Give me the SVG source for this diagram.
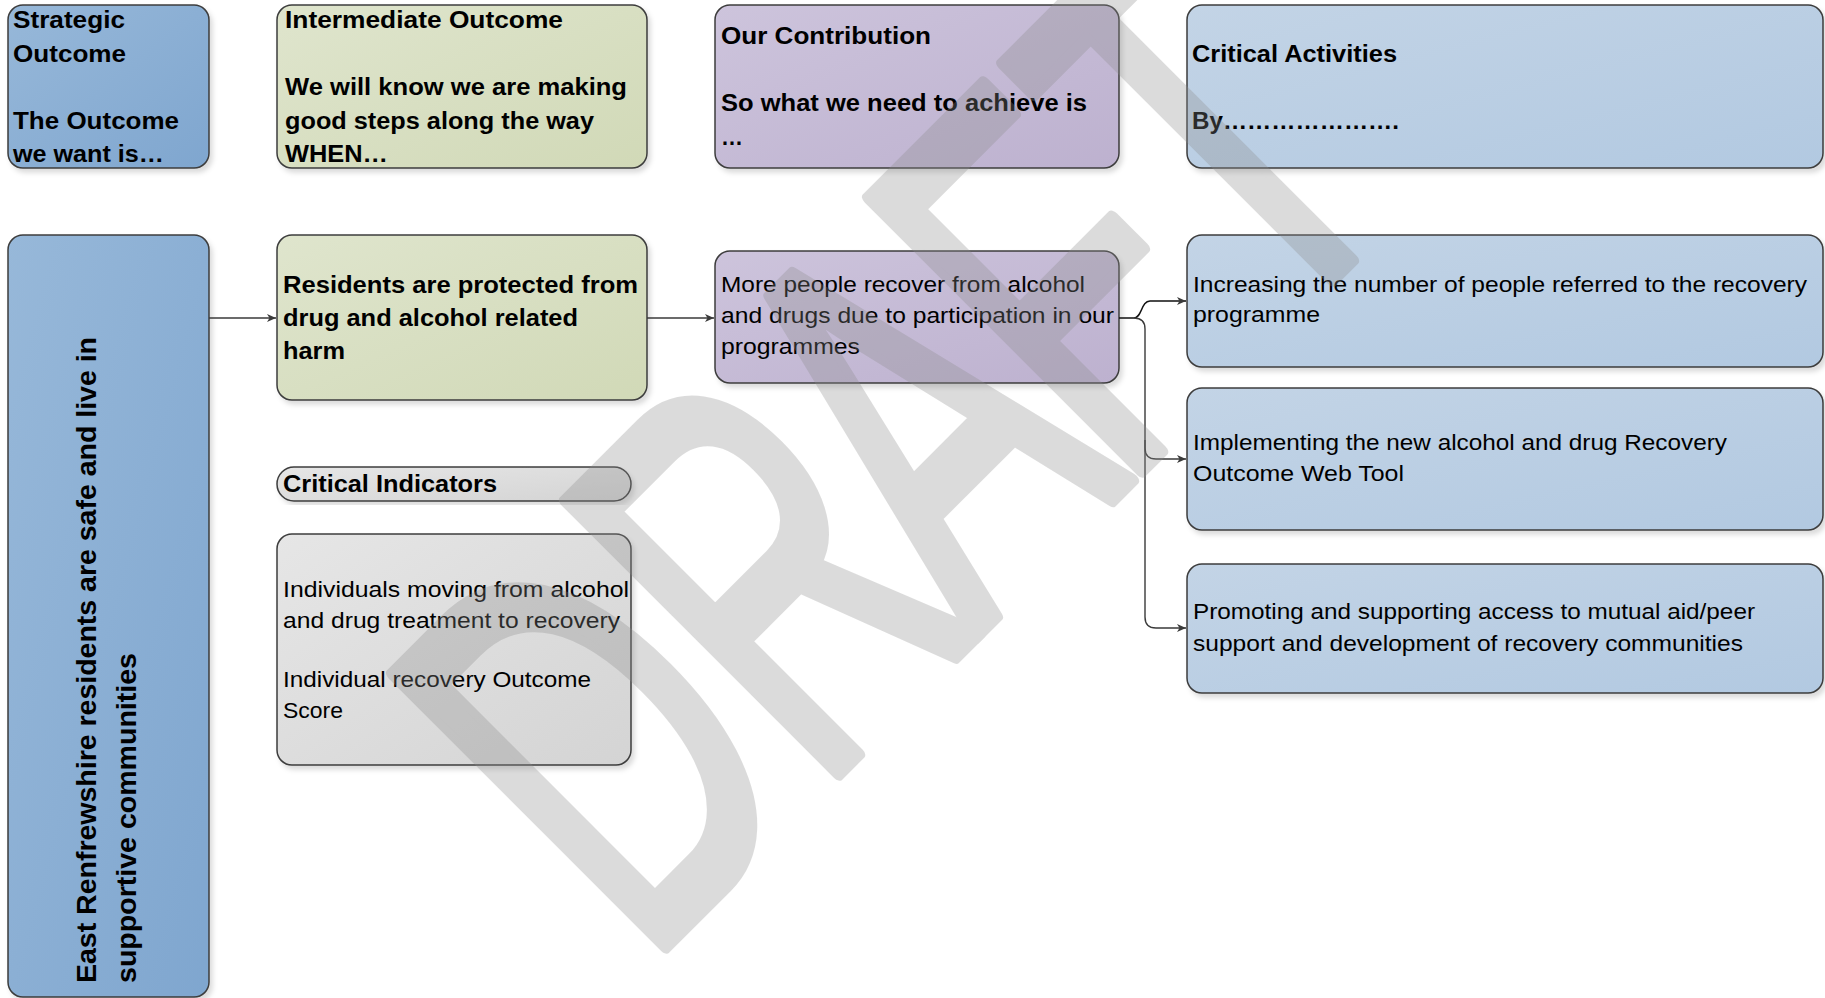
<svg xmlns="http://www.w3.org/2000/svg" width="1825" height="998" viewBox="0 0 1825 998">
<style>
.box{stroke:#3c3c3c;stroke-width:1.5;filter:url(#sh)}
.b{font-family:"Liberation Sans",Arial,sans-serif;font-weight:bold;font-size:23px;fill:#000}
.r{font-family:"Liberation Sans",Arial,sans-serif;font-size:22px;fill:#000}
.v{font-family:"Liberation Sans",Arial,sans-serif;font-weight:bold;font-size:28px;fill:#000}
.c{fill:none;stroke:#3a3a3a;stroke-width:1.4}
.wm{font-family:"Liberation Sans",Arial,sans-serif;font-size:560px;fill:#8c8c8c;stroke:#8c8c8c;stroke-width:14;stroke-linejoin:round;opacity:0.3}
</style>
<defs>
<filter id="sh" x="-5%" y="-5%" width="115%" height="115%">
<feDropShadow dx="3" dy="4" stdDeviation="2.5" flood-color="#000" flood-opacity="0.14"/>
</filter>
<linearGradient id="gBlue" x1="0" y1="0" x2="1" y2="1"><stop offset="0" stop-color="#97b8d9"/><stop offset="1" stop-color="#7fa6cf"/></linearGradient>
<linearGradient id="gGreen" x1="0" y1="0" x2="1" y2="1"><stop offset="0" stop-color="#dfe5cd"/><stop offset="1" stop-color="#d1d9b7"/></linearGradient>
<linearGradient id="gPurple" x1="0" y1="0" x2="1" y2="1"><stop offset="0" stop-color="#cdc4dc"/><stop offset="1" stop-color="#bdb1cf"/></linearGradient>
<linearGradient id="gLight" x1="0" y1="0" x2="1" y2="1"><stop offset="0" stop-color="#c3d4e6"/><stop offset="1" stop-color="#b2c9e1"/></linearGradient>
<linearGradient id="gGray" x1="0" y1="0" x2="1" y2="1"><stop offset="0" stop-color="#e6e6e6"/><stop offset="1" stop-color="#d4d4d4"/></linearGradient>
<marker id="ar" markerUnits="userSpaceOnUse" markerWidth="10" markerHeight="9" refX="9" refY="4" orient="auto">
<path d="M0,0 L9,4 L0,8 L2.5,4 Z" fill="#3a3a3a"/>
</marker>
</defs>
<rect width="1825" height="998" fill="#fff"/>

<g id="hdr-strategic">
<rect class="box" x="8" y="5" width="201" height="163" rx="15" fill="url(#gBlue)"/>
<text class="b" x="13" y="28" textLength="112" lengthAdjust="spacingAndGlyphs">Strategic</text>
<text class="b" x="13" y="62" textLength="113" lengthAdjust="spacingAndGlyphs">Outcome</text>
<text class="b" x="13" y="129" textLength="166" lengthAdjust="spacingAndGlyphs">The Outcome</text>
<text class="b" x="13" y="162" textLength="151" lengthAdjust="spacingAndGlyphs">we want is…</text>
</g>
<g id="hdr-intermediate">
<rect class="box" x="277" y="5" width="370" height="163" rx="15" fill="url(#gGreen)"/>
<text class="b" x="285" y="28" textLength="278" lengthAdjust="spacingAndGlyphs">Intermediate Outcome</text>
<text class="b" x="285" y="95" textLength="342" lengthAdjust="spacingAndGlyphs">We will know we are making</text>
<text class="b" x="285" y="129" textLength="309" lengthAdjust="spacingAndGlyphs">good steps along the way</text>
<text class="b" x="285" y="162" textLength="103" lengthAdjust="spacingAndGlyphs">WHEN…</text>
</g>
<g id="hdr-contribution">
<rect class="box" x="715" y="5" width="404" height="163" rx="15" fill="url(#gPurple)"/>
<text class="b" x="721" y="44" textLength="210" lengthAdjust="spacingAndGlyphs">Our Contribution</text>
<text class="b" x="721" y="111" textLength="366" lengthAdjust="spacingAndGlyphs">So what we need to achieve is</text>
<text class="b" x="721" y="145" textLength="22" lengthAdjust="spacingAndGlyphs">…</text>
</g>
<g id="hdr-activities">
<rect class="box" x="1187" y="5" width="636" height="163" rx="15" fill="url(#gLight)"/>
<text class="b" x="1192" y="62" textLength="205" lengthAdjust="spacingAndGlyphs">Critical Activities</text>
<text class="b" x="1192" y="129" textLength="207" lengthAdjust="spacingAndGlyphs">By………………….</text>
</g>

<g id="strategic-outcome">
<rect class="box" x="8" y="235" width="201" height="762" rx="15" fill="url(#gBlue)"/>
<text class="v" transform="translate(96,983) rotate(-90)" textLength="646" lengthAdjust="spacingAndGlyphs">East Renfrewshire residents are safe and live in</text>
<text class="v" transform="translate(136,983) rotate(-90)" textLength="330" lengthAdjust="spacingAndGlyphs">supportive communities</text>
</g>
<g id="intermediate-outcome">
<rect class="box" x="277" y="235" width="370" height="165" rx="15" fill="url(#gGreen)"/>
<text class="b" x="283" y="293" textLength="355" lengthAdjust="spacingAndGlyphs">Residents are protected from</text>
<text class="b" x="283" y="326" textLength="295" lengthAdjust="spacingAndGlyphs">drug and alcohol related</text>
<text class="b" x="283" y="359" textLength="62" lengthAdjust="spacingAndGlyphs">harm</text>
</g>
<g id="contribution">
<rect class="box" x="715" y="251" width="404" height="132" rx="15" fill="url(#gPurple)"/>
<text class="r" x="721" y="292" textLength="364" lengthAdjust="spacingAndGlyphs">More people recover from alcohol</text>
<text class="r" x="721" y="323" textLength="393" lengthAdjust="spacingAndGlyphs">and drugs due to participation in our</text>
<text class="r" x="721" y="354" textLength="139" lengthAdjust="spacingAndGlyphs">programmes</text>
</g>
<g id="activity-1">
<rect class="box" x="1187" y="235" width="636" height="132" rx="15" fill="url(#gLight)"/>
<text class="r" x="1193" y="292" textLength="614" lengthAdjust="spacingAndGlyphs">Increasing the number of people referred to the recovery</text>
<text class="r" x="1193" y="322" textLength="127" lengthAdjust="spacingAndGlyphs">programme</text>
</g>
<g id="activity-2">
<rect class="box" x="1187" y="388" width="636" height="142" rx="15" fill="url(#gLight)"/>
<text class="r" x="1193" y="450" textLength="534" lengthAdjust="spacingAndGlyphs">Implementing the new alcohol and drug Recovery</text>
<text class="r" x="1193" y="481" textLength="211" lengthAdjust="spacingAndGlyphs">Outcome Web Tool</text>
</g>
<g id="activity-3">
<rect class="box" x="1187" y="564" width="636" height="129" rx="15" fill="url(#gLight)"/>
<text class="r" x="1193" y="619" textLength="562" lengthAdjust="spacingAndGlyphs">Promoting and supporting access to mutual aid/peer</text>
<text class="r" x="1193" y="651" textLength="550" lengthAdjust="spacingAndGlyphs">support and development of recovery communities</text>
</g>
<g id="critical-indicators-label">
<rect class="box" x="277" y="467" width="354" height="34" rx="17" fill="url(#gGray)"/>
<text class="b" x="283" y="492" textLength="214" lengthAdjust="spacingAndGlyphs">Critical Indicators</text>
</g>
<g id="critical-indicators">
<rect class="box" x="277" y="534" width="354" height="231" rx="15" fill="url(#gGray)"/>
<text class="r" x="283" y="597" textLength="346" lengthAdjust="spacingAndGlyphs">Individuals moving from alcohol</text>
<text class="r" x="283" y="628" textLength="337" lengthAdjust="spacingAndGlyphs">and drug treatment to recovery</text>
<text class="r" x="283" y="687" textLength="308" lengthAdjust="spacingAndGlyphs">Individual recovery Outcome</text>
<text class="r" x="283" y="718" textLength="60" lengthAdjust="spacingAndGlyphs">Score</text>
</g>

<g id="connectors">
<path class="c" d="M209,318 H276" marker-end="url(#ar)"/>
<path class="c" d="M647,318 H714" marker-end="url(#ar)"/>
<path class="c" d="M1119,318 H1134 C1142,318 1141,301 1150,301 H1186" marker-end="url(#ar)" style="stroke:#111"/>
<path class="c" d="M1134,318 Q1145,318 1145,329 V448 Q1145,459 1156,459 H1186" marker-end="url(#ar)"/>
<path class="c" d="M1145,440 V617 Q1145,628 1156,628 H1186" marker-end="url(#ar)"/>
</g>

<text class="wm" transform="translate(674,938) rotate(-45) scale(0.607,1)" x="-69 334 698 1040 1386" y="0">DRAFT</text>
</svg>
